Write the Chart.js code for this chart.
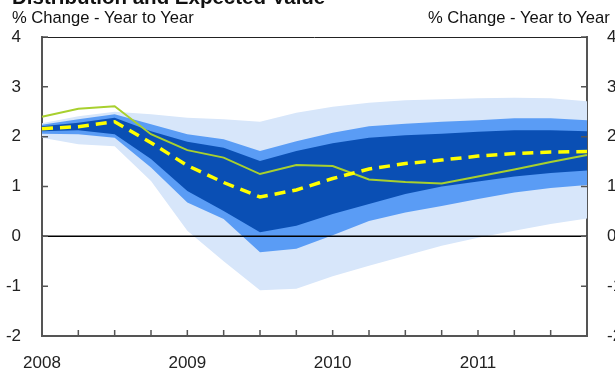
<!DOCTYPE html>
<html>
<head>
<meta charset="utf-8">
<script src="https://cdn.jsdelivr.net/npm/chart.js@4.4.1/dist/chart.umd.min.js"></script>
<style>
  html, body { margin: 0; padding: 0; background: #fff; }
  #wrap { width: 615px; height: 373px; position: relative; overflow: hidden; font-family: "Liberation Sans", Arial, sans-serif; }
  #wrap canvas { position: absolute; left: 0; top: 0; }
  .txt { position: absolute; white-space: nowrap; color: #111; }
  #title { left: 12px; top: -13px; font-size: 20.5px; line-height: 20px; font-weight: bold; }
  .unit { top: 10px; font-size: 16.6px; line-height: 16px; }
</style>
</head>
<body>
<div id="wrap">
  <canvas id="myChart" width="615" height="373"></canvas>
  <div class="txt" id="title">Distribution and Expected Value</div>
  <div class="txt unit" style="left:12px">% Change - Year to Year</div>
  <div class="txt unit" style="left:428px">% Change - Year to Year</div>
</div>
<script>
// Quarters, 2008 Q1 to 2011 Q4
const quarters = ['2008 Q1', '2008 Q2', '2008 Q3', '2008 Q4',
                  '2009 Q1', '2009 Q2', '2009 Q3', '2009 Q4',
                  '2010 Q1', '2010 Q2', '2010 Q3', '2010 Q4',
                  '2011 Q1', '2011 Q2', '2011 Q3', '2011 Q4'];
const yearTicks = ['2008', '', '', '', '2009', '', '', '', '2010', '', '', '', '2011', '', '', ''];
const yTicks = [-2, -1, 0, 1, 2, 3, 4];

// Actual (green) and expected value (yellow dashed)
const actual = [2.4, 2.56, 2.61, 2.05, 1.73, 1.58, 1.25, 1.43, 1.41, 1.14, 1.09, 1.06, 1.2, 1.34, 1.49, 1.63];
const expected = [2.16, 2.2, 2.3, 1.88, 1.42, 1.08, 0.79, 0.93, 1.16, 1.35, 1.46, 1.53, 1.61, 1.66, 1.69, 1.7];

// Distribution bands
const darkUpper = [2.21, 2.28, 2.38, 2.11, 1.9, 1.78, 1.51, 1.71, 1.87, 1.98, 2.03, 2.06, 2.1, 2.13, 2.13, 2.11];
const darkLower = [2.11, 2.13, 2.05, 1.55, 0.91, 0.51, 0.08, 0.21, 0.45, 0.65, 0.85, 1.0, 1.1, 1.2, 1.27, 1.32];
const midUpper = [2.24, 2.35, 2.45, 2.25, 2.05, 1.95, 1.71, 1.91, 2.08, 2.21, 2.26, 2.3, 2.33, 2.37, 2.37, 2.33];
const midLower = [2.06, 2.05, 1.98, 1.38, 0.68, 0.35, -0.32, -0.25, 0.02, 0.31, 0.48, 0.61, 0.75, 0.88, 0.97, 1.03];
const lightUpper = [2.27, 2.41, 2.5, 2.45, 2.38, 2.35, 2.3, 2.48, 2.6, 2.68, 2.73, 2.75, 2.77, 2.78, 2.77, 2.71];
const lightLower = [1.98, 1.85, 1.81, 1.11, 0.11, -0.5, -1.08, -1.05, -0.8, -0.59, -0.39, -0.19, -0.03, 0.11, 0.25, 0.36];

const axisGrey = '#555555';

// inner tick marks, zero line and top border
const framePlugin = {
    id: 'frame',
    afterDatasetsDraw(chart) {
        const ctx = chart.ctx;
        const area = chart.chartArea;
        const y = chart.scales.y;
        const x = chart.scales.x;
        ctx.save();
        // zero line
        ctx.strokeStyle = '#000';
        ctx.lineWidth = 1.5;
        ctx.beginPath();
        ctx.moveTo(area.left, y.getPixelForValue(0));
        ctx.lineTo(area.right, y.getPixelForValue(0));
        ctx.stroke();
        // top border
        ctx.strokeStyle = '#222';
        ctx.lineWidth = 1;
        ctx.beginPath();
        ctx.moveTo(area.left, area.top + 0.5);
        ctx.lineTo(area.right, area.top + 0.5);
        ctx.stroke();
        // tick marks pointing inward
        ctx.strokeStyle = axisGrey;
        ctx.lineWidth = 1.5;
        ctx.beginPath();
        yTicks.forEach(v => {
            const py = y.getPixelForValue(v);
            ctx.moveTo(area.left, py);
            ctx.lineTo(area.left + 6, py);
            ctx.moveTo(area.right, py);
            ctx.lineTo(area.right - 6, py);
        });
        for (let i = 1; i < quarters.length - 1; i++) {
            const px = x.getPixelForTick(i);
            ctx.moveTo(px, area.bottom);
            ctx.lineTo(px, area.bottom - 6);
        }
        ctx.stroke();
        ctx.restore();
    }
};

function band(data, color, fill, order) {
    return {
        data: data,
        borderWidth: 0,
        borderColor: 'rgba(0,0,0,0)',
        backgroundColor: color,
        pointRadius: 0,
        fill: fill,
        order: order,
        yAxisID: 'y'
    };
}

const tickFont = { family: '"Liberation Sans", Arial, sans-serif', size: 17 };

const ctx = document.getElementById('myChart').getContext('2d');
const myChart = new Chart(ctx, {
    type: 'line',
    data: {
        labels: quarters,
        datasets: [
            {
                label: 'Expected value',
                data: expected,
                borderColor: '#ffff00',
                borderWidth: 3.5,
                borderDash: [11, 7],
                pointRadius: 0,
                fill: false,
                order: 0,
                yAxisID: 'y'
            },
            {
                label: 'Actual',
                data: actual,
                borderColor: '#a8d02e',
                borderWidth: 2,
                pointRadius: 0,
                fill: false,
                order: 1,
                yAxisID: 'y'
            },
            band(darkUpper, '#0a4fb4', '+1', 2),
            band(darkLower, 'rgba(0,0,0,0)', false, 3),
            band(midUpper, '#5a9cf5', '+1', 4),
            band(midLower, 'rgba(0,0,0,0)', false, 5),
            band(lightUpper, '#d7e6fa', '+1', 6),
            band(lightLower, 'rgba(0,0,0,0)', false, 7)
        ]
    },
    options: {
        responsive: false,
        animation: false,
        devicePixelRatio: 1,
        layout: { padding: { top: 37, left: 0, right: 0, bottom: 0 } },
        plugins: {
            legend: { display: false },
            tooltip: { enabled: false }
        },
        elements: { line: { tension: 0 } },
        scales: {
            x: {
                offset: false,
                grid: { display: false },
                border: { display: true, color: axisGrey, width: 2 },
                ticks: {
                    autoSkip: false,
                    maxRotation: 0,
                    padding: 9,
                    color: '#222',
                    font: tickFont,
                    callback: (val, i) => yearTicks[i]
                },
                afterFit: scale => { scale.height = 37; }
            },
            y: {
                position: 'left',
                min: -2,
                max: 4,
                grid: { display: false },
                border: { display: true, color: axisGrey, width: 2 },
                ticks: { stepSize: 1, padding: 13, color: '#222', font: tickFont },
                afterFit: scale => { scale.width = 42; }
            },
            y2: {
                position: 'right',
                min: -2,
                max: 4,
                grid: { display: false },
                border: { display: true, color: axisGrey, width: 2 },
                ticks: { stepSize: 1, padding: 12, color: '#222', font: tickFont },
                afterFit: scale => { scale.width = 28; }
            }
        }
    },
    plugins: [framePlugin]
});
</script>
</body>
</html>
